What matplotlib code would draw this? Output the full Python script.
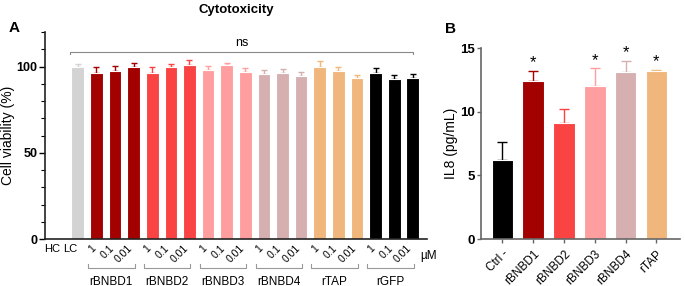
import matplotlib
matplotlib.use("Agg")
import matplotlib.pyplot as plt
from matplotlib.ticker import MultipleLocator
import numpy as np

plt.rcParams['font.family'] = ['Liberation Sans', 'DejaVu Sans']

# panel A: cytotoxicity
groups = ["rBNBD1", "rBNBD2", "rBNBD3", "rBNBD4", "rTAP", "rGFP"]
concs = ["1", "0.1", "0.01"]
group_colors = ["#A30000", "#FA4444", "#FF9E9E", "#D6B0B0", "#F0B67C", "#000000"]
ctrl_labels = ["HC", "LC"]
ctrl_vals = [np.nan, 99.5]
ctrl_err = [0, 2.0]
viab = [
    [96.5, 97.5, 99.5],   # rBNBD1
    [96.0, 99.5, 101.0],  # rBNBD2
    [98.0, 101.0, 97.0],  # rBNBD3
    [95.5, 96.5, 94.5],   # rBNBD4
    [100.0, 97.5, 93.5],  # rTAP
    [96.0, 92.5, 93.5],   # rGFP
]
viab_err = [
    [3.5, 3.0, 2.5],
    [3.5, 2.0, 3.0],
    [2.5, 1.0, 2.0],
    [2.5, 2.0, 2.5],
    [3.5, 2.0, 1.5],
    [3.0, 2.5, 2.0],
]

# panel B: IL8
il8_labels = ["Ctrl -", "rBNBD1", "rBNBD2", "rBNBD3", "rBNBD4", "rTAP"]
il8_vals = [6.2, 12.4, 9.1, 12.0, 13.1, 13.2]
il8_err = [1.4, 0.8, 1.1, 1.4, 0.9, 0.1]
il8_colors = ["#000000", "#A30000", "#FA4444", "#FF9E9E", "#D6B0B0", "#F0B67C"]
il8_sig = ["", "*", "", "*", "*", "*"]

fig = plt.figure(figsize=(6.85, 2.86), dpi=100)
axA = fig.add_axes([0.066, 0.164, 0.557, 0.724])
axB = fig.add_axes([0.702, 0.164, 0.29, 0.668])

# ---- panel A
vals = list(ctrl_vals)
errs = list(ctrl_err)
cols = ["#D3D3D3", "#D3D3D3"]
for g in range(len(groups)):
    vals += viab[g]
    errs += viab_err[g]
    cols += [group_colors[g]] * 3
x = np.arange(len(vals))
for xi, v, e, c in zip(x, vals, errs, cols):
    if np.isnan(v):
        continue
    axA.bar(xi, v, width=0.68, color=c, edgecolor="white", linewidth=0.8, zorder=2)
    axA.errorbar(xi, v, yerr=[[0], [e]], fmt="none", ecolor=c, elinewidth=1.0,
                 capsize=2.5, capthick=1.0, zorder=1)

axA.set_xlim(-0.75, len(vals) - 0.25)
axA.set_ylim(0, 120)
axA.yaxis.set_major_locator(MultipleLocator(50))
axA.yaxis.set_minor_locator(MultipleLocator(10))
axA.set_xticks([])
for s in ["top", "right"]:
    axA.spines[s].set_visible(False)
for s in ["left", "bottom"]:
    axA.spines[s].set_linewidth(1.2)
    axA.spines[s].set_color("#222222")
axA.tick_params(axis="y", which="major", length=4, width=1, labelsize=9, pad=1.5)
axA.tick_params(axis="y", which="minor", length=3, width=0.8)
for t in axA.get_yticklabels():
    t.set_fontweight("bold")
axA.set_ylabel("Cell viability (%)", fontsize=10, labelpad=1)
axA.set_title("Cytotoxicity", fontsize=9.5, fontweight="bold", pad=14)
axA.text(-0.095, 1.0, "A", transform=axA.transAxes, fontsize=11, fontweight="bold")

trA = axA.get_xaxis_transform()
for i, lab in enumerate(ctrl_labels):
    axA.text(i - 0.38, -0.05, lab, transform=trA, ha="center", va="center", fontsize=8)
for g, name in enumerate(groups):
    first = 2 + 3 * g
    for k, cl in enumerate(concs):
        axA.text(first + k + 0.05, -0.02, cl, transform=trA, ha="right", va="top",
                 rotation=45, fontsize=7.5)
    x0, x1 = first - 0.45, first + 2.05
    axA.plot([x0, x0, x1, x1], [-0.118, -0.138, -0.138, -0.118], transform=trA,
             color="#999999", lw=0.8, clip_on=False)
    axA.text((x0 + x1) / 2, -0.205, name, transform=trA, ha="center", va="center",
             fontsize=8.5)
axA.text(19.4, -0.08, "µM", transform=trA, ha="left", va="center", fontsize=8.5)

# ns bracket
axA.plot([0.6, 0.6, 19.0, 19.0], [107, 108.5, 108.5, 107], color="#888888", lw=0.8)
axA.text(9.8, 110, "ns", ha="center", va="bottom", fontsize=9)

# ---- panel B
xb = np.arange(len(il8_vals))
for xi, v, e, c, s in zip(xb, il8_vals, il8_err, il8_colors, il8_sig):
    axB.bar(xi, v, width=0.7, color=c, edgecolor="white", linewidth=0.8, zorder=2)
    axB.errorbar(xi, v, yerr=[[0], [e]], fmt="none", ecolor=c, elinewidth=1.0,
                 capsize=3.5, capthick=1.0, zorder=1)
    if s:
        axB.text(xi, v + e + 0.05, s, ha="center", va="bottom", fontsize=12)
axB.set_xlim(-0.7, 5.75)
axB.set_ylim(0, 15)
axB.set_yticks([0, 5, 10, 15])
axB.set_xticks(xb)
axB.set_xticklabels(il8_labels, rotation=45, ha="right", rotation_mode="anchor",
                    fontsize=8.5)
for s in ["top", "right"]:
    axB.spines[s].set_visible(False)
for s in ["left", "bottom"]:
    axB.spines[s].set_linewidth(1.2)
    axB.spines[s].set_color("#666666")
axB.tick_params(axis="y", length=3, width=1, colors="#666666", labelcolor="black",
                labelsize=9.5, pad=1.5)
axB.tick_params(axis="x", length=3, width=1, colors="#666666", labelcolor="black")
for t in axB.get_yticklabels():
    t.set_fontweight("bold")
axB.set_ylabel("IL8 (pg/mL)", fontsize=10, labelpad=1)
axB.text(-0.18, 1.08, "B", transform=axB.transAxes, fontsize=11, fontweight="bold")

fig.savefig("out.png", dpi=100)
